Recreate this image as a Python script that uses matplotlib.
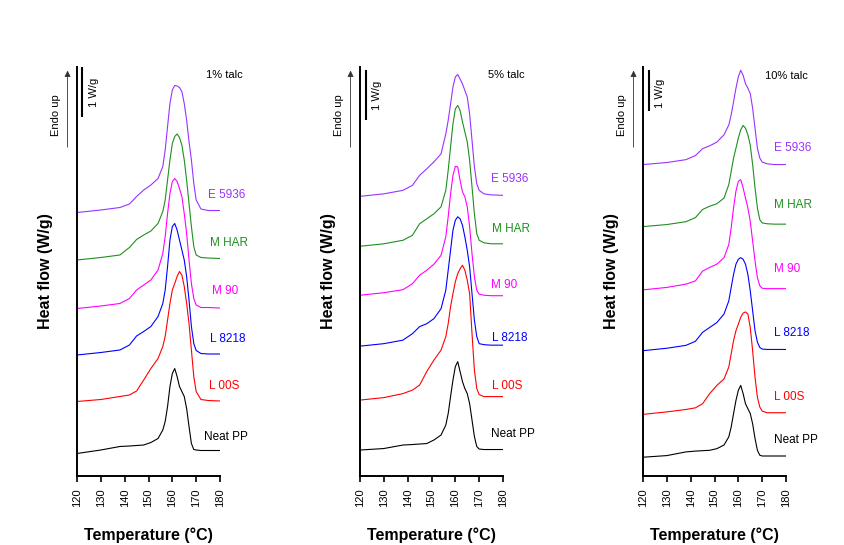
import numpy as np
import matplotlib.pyplot as plt

plt.rcParams['font.family'] = ['Liberation Sans', 'DejaVu Sans']

# temperature grid (°C) shared by every curve
temp = [120, 130, 138, 142, 145, 148, 151, 154, 156, 157, 158, 159, 160, 161,
        162, 163, 164, 165, 166, 167, 168, 169, 170, 172, 175, 180]

names = ['Neat PP', 'L 00S', 'L 8218', 'M 90', 'M HAR', 'E 5936']
colors = ['#000000', '#ff0000', '#0000ff', '#ff00ff', '#1f8f1f', '#9933ff']
titles = ['1% talc', '5% talc', '10% talc']

# ---- 1% talc (heat flow, W/g, curves shifted) ----
t1_neat = [0.45, 0.52, 0.59, 0.60, 0.61, 0.62, 0.67, 0.75, 0.92, 1.09, 1.39, 1.79, 2.05, 2.15,
           1.99, 1.79, 1.69, 1.59, 1.35, 0.99, 0.65, 0.53, 0.52, 0.51, 0.51, 0.51]
t1_l00s = [1.49, 1.53, 1.59, 1.62, 1.70, 1.92, 2.15, 2.35, 2.59, 2.79, 3.12, 3.45, 3.72, 3.85,
           3.99, 4.09, 4.02, 3.79, 3.45, 3.05, 2.52, 1.99, 1.69, 1.53, 1.51, 1.50]
t1_l8218 = [2.42, 2.47, 2.52, 2.62, 2.80, 2.89, 2.99, 3.19, 3.45, 3.72, 4.19, 4.72, 4.99, 5.05,
            4.92, 4.72, 4.52, 4.32, 3.99, 3.52, 2.99, 2.65, 2.51, 2.45, 2.44, 2.44]
t1_m90 = [3.35, 3.40, 3.45, 3.55, 3.72, 3.82, 3.92, 4.12, 4.45, 4.79, 5.25, 5.65, 5.89, 5.95,
          5.89, 5.75, 5.59, 5.25, 4.85, 4.32, 3.85, 3.55, 3.42, 3.37, 3.37, 3.36]
t1_mhar = [4.32, 4.37, 4.42, 4.57, 4.73, 4.82, 4.90, 5.05, 5.29, 5.52, 5.92, 6.32, 6.65, 6.79,
           6.84, 6.77, 6.62, 6.32, 5.92, 5.45, 4.99, 4.59, 4.42, 4.37, 4.36, 4.35]
t1_e5936 = [5.27, 5.32, 5.37, 5.44, 5.59, 5.72, 5.82, 5.95, 6.19, 6.52, 6.99, 7.45, 7.72, 7.81,
            7.80, 7.77, 7.69, 7.45, 7.12, 6.69, 6.32, 5.85, 5.52, 5.34, 5.31, 5.31]

# ---- 5% talc ----
t5_neat = [0.52, 0.55, 0.62, 0.63, 0.64, 0.65, 0.72, 0.82, 1.02, 1.25, 1.59, 1.92, 2.19, 2.29,
           2.09, 1.89, 1.75, 1.65, 1.45, 1.12, 0.79, 0.59, 0.54, 0.53, 0.53, 0.53]
t5_l00s = [1.52, 1.57, 1.65, 1.72, 1.82, 2.09, 2.32, 2.52, 2.79, 3.05, 3.39, 3.65, 3.89, 4.05,
           4.15, 4.22, 4.12, 3.92, 3.65, 2.85, 2.12, 1.75, 1.63, 1.59, 1.59, 1.59]
t5_l8218 = [2.60, 2.65, 2.72, 2.85, 2.99, 3.05, 3.15, 3.35, 3.72, 4.12, 4.52, 4.92, 5.12, 5.19,
            5.15, 5.02, 4.79, 4.52, 4.19, 3.65, 3.12, 2.79, 2.65, 2.63, 2.62, 2.62]
t5_m90 = [3.62, 3.67, 3.73, 3.85, 4.02, 4.12, 4.24, 4.42, 4.79, 5.19, 5.65, 6.02, 6.20, 6.19,
          5.92, 5.69, 5.59, 5.39, 4.99, 4.45, 3.99, 3.72, 3.64, 3.62, 3.61, 3.61]
t5_mhar = [4.60, 4.65, 4.72, 4.82, 5.05, 5.15, 5.25, 5.39, 5.72, 6.12, 6.59, 7.05, 7.35, 7.42,
           7.32, 7.09, 6.89, 6.69, 6.32, 5.79, 5.25, 4.85, 4.72, 4.67, 4.65, 4.65]
t5_e5936 = [5.60, 5.65, 5.72, 5.82, 6.02, 6.15, 6.29, 6.45, 6.85, 7.12, 7.45, 7.79, 7.99, 8.04,
            7.95, 7.85, 7.72, 7.59, 7.25, 6.72, 6.19, 5.85, 5.72, 5.65, 5.63, 5.62]

# ---- 10% talc ----
t10_neat = [0.46, 0.50, 0.59, 0.61, 0.62, 0.63, 0.67, 0.76, 0.96, 1.20, 1.53, 1.85, 2.10, 2.22,
            2.02, 1.77, 1.65, 1.53, 1.28, 0.92, 0.63, 0.51, 0.49, 0.49, 0.49, 0.49]
t10_l00s = [1.51, 1.57, 1.63, 1.67, 1.77, 2.02, 2.22, 2.38, 2.67, 2.99, 3.32, 3.56, 3.72, 3.89,
            3.99, 4.02, 3.97, 3.64, 3.07, 2.42, 1.93, 1.69, 1.59, 1.55, 1.55, 1.55]
t10_l8218 = [3.07, 3.13, 3.20, 3.30, 3.52, 3.64, 3.76, 3.97, 4.29, 4.62, 4.94, 5.19, 5.31, 5.35,
             5.31, 5.19, 4.94, 4.54, 4.05, 3.56, 3.28, 3.15, 3.11, 3.10, 3.10, 3.10]
t10_m90 = [4.56, 4.62, 4.70, 4.78, 5.02, 5.11, 5.19, 5.35, 5.67, 6.08, 6.57, 6.98, 7.22, 7.26,
           7.06, 6.81, 6.57, 6.24, 5.76, 5.27, 4.86, 4.66, 4.60, 4.59, 4.59, 4.59]
t10_mhar = [6.11, 6.16, 6.23, 6.33, 6.53, 6.61, 6.67, 6.81, 7.14, 7.46, 7.79, 8.03, 8.28, 8.48,
            8.59, 8.52, 8.36, 8.11, 7.63, 7.06, 6.57, 6.28, 6.20, 6.18, 6.17, 6.17]
t10_e5936 = [7.63, 7.68, 7.75, 7.85, 8.02, 8.09, 8.18, 8.36, 8.60, 8.85, 9.17, 9.50, 9.78, 9.94,
             9.82, 9.61, 9.50, 9.37, 9.01, 8.52, 8.03, 7.79, 7.69, 7.65, 7.63, 7.63]

panels = [
    [t1_neat, t1_l00s, t1_l8218, t1_m90, t1_mhar, t1_e5936],
    [t5_neat, t5_l00s, t5_l8218, t5_m90, t5_mhar, t5_e5936],
    [t10_neat, t10_l00s, t10_l8218, t10_m90, t10_mhar, t10_e5936],
]

# label positions (T, y) for each curve name
label_pos = [
    [(173.2, 0.79), (175.3, 1.80), (176.0, 2.75), (176.5, 3.69), (175.7, 4.67), (175.0, 5.62)],
    [(174.9, 0.85), (175.3, 1.81), (175.3, 2.77), (174.9, 3.82), (175.3, 4.94), (174.9, 5.95)],
    [(174.9, 0.88), (174.9, 1.93), (174.9, 3.50), (174.9, 5.07), (174.9, 6.63), (174.9, 8.03)],
]
title_pos = [(174.3, 8.03), (173.7, 8.02), (171.1, 9.80)]
ytop = [8.18, 8.19, 10.02]
bar = [(122.3, 7.19, 8.19), (122.5, 7.13, 8.13), (122.5, 8.94, 9.94)]

fig = plt.figure(figsize=(8.44, 5.45), dpi=100)
lefts = [77, 360, 643]

for k in range(3):
    ax = fig.add_axes([lefts[k] / 844, 69 / 545, 143 / 844, 409 / 545])
    for i in range(6):
        ax.plot(temp, panels[k][i], color=colors[i], lw=0.8)
        lx, ly = label_pos[k][i]
        ax.text(lx, ly, names[i], color=colors[i], fontsize=8.5, va='center', ha='left')
    tx, ty = title_pos[k]
    ax.text(tx, ty, titles[k], fontsize=8, va='center', ha='left')

    # 1 W/g scale bar
    bx, b0, b1 = bar[k]
    ax.plot([bx, bx], [b0, b1], color='black', lw=1.5, solid_capstyle='butt')
    ax.text(bx + 4.8, b1 - 0.22, '1 W/g', rotation=90, fontsize=8, ha='center', va='top')

    # endo up arrow
    ax.annotate('', xy=(-0.066, 0.998), xytext=(-0.066, 0.797), xycoords='axes fraction',
                textcoords='axes fraction',
                arrowprops=dict(arrowstyle='-|>', color='#333333', lw=0.6, mutation_scale=9))
    ax.text(-0.145, 0.883, 'Endo up', rotation=90, fontsize=8, ha='center', va='center',
            transform=ax.transAxes)

    ax.set_xlim(120, 180)
    ax.set_ylim(0, ytop[k])
    ax.set_xticks(np.arange(120, 181, 10))
    ax.set_yticks([])
    ax.spines['top'].set_visible(False)
    ax.spines['right'].set_visible(False)
    ax.spines['left'].set_linewidth(1.4)
    ax.spines['bottom'].set_linewidth(1.4)
    ax.tick_params(axis='x', direction='out', length=4, width=1.2, pad=5,
                   labelrotation=90, labelsize=8)
    ax.set_ylabel('Heat flow (W/g)', fontsize=11.5, fontweight='bold')
    ax.yaxis.set_label_coords(-0.165, 0.5)
    ax.set_xlabel('Temperature (°C)', fontsize=11.5, fontweight='bold')
    ax.xaxis.set_label_coords(0.5, -0.125)
    ax.patch.set_alpha(0)

fig.savefig('out.png', dpi=100)
